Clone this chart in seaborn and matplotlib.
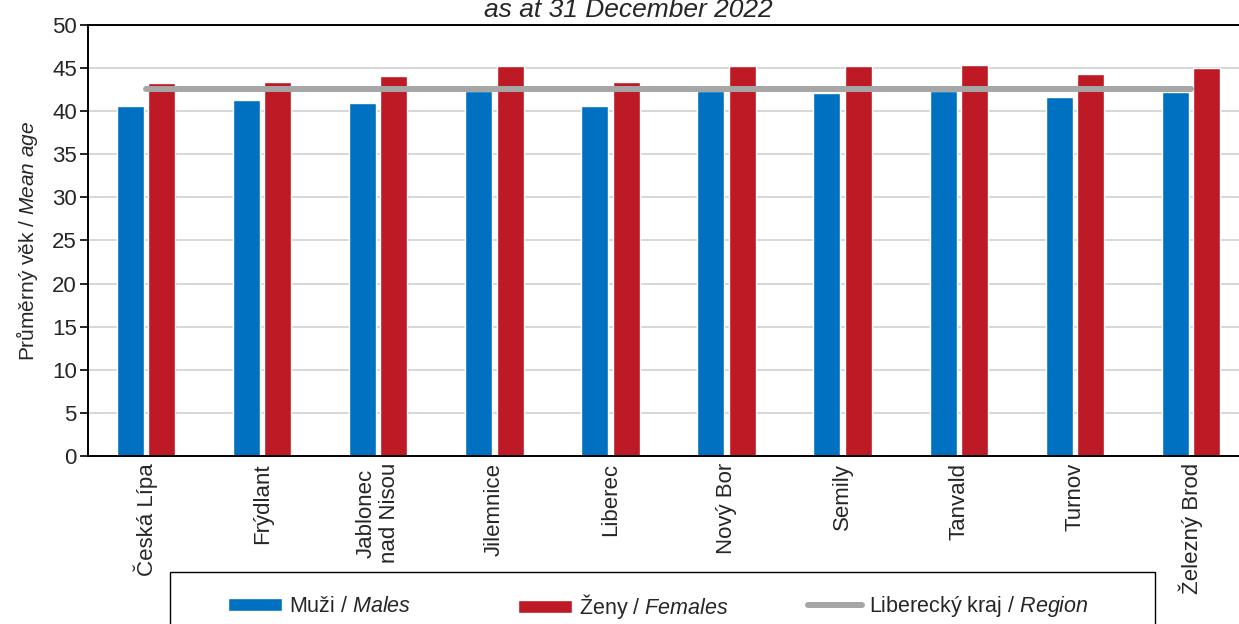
import numpy as np
import pandas as pd
import matplotlib
matplotlib.use("Agg")
import matplotlib.pyplot as plt
from matplotlib.patches import Patch, Rectangle
from matplotlib.lines import Line2D
import seaborn as sns

# Data
okresy = ["Česká Lípa", "Frýdlant", "Jablonec\nnad Nisou", "Jilemnice", "Liberec",
          "Nový Bor", "Semily", "Tanvald", "Turnov", "Železný Brod"]
muzi = [40.65, 41.35, 40.92, 42.3, 40.65, 42.3, 42.1, 42.3, 41.6, 42.2]
zeny = [43.3, 43.37, 44.05, 45.23, 43.33, 45.27, 45.23, 45.35, 44.3, 45.0]
kraj_prumer = 42.6
pohlavi = ["Muži / Males", "Ženy / Females"]

BLUE = "#0070C0"
RED = "#BE1A25"
GREY = "#A6A6A6"

df = pd.DataFrame({
    "okres": okresy * 2,
    "vek": muzi + zeny,
    "pohlavi": [pohlavi[0]] * len(okresy) + [pohlavi[1]] * len(okresy),
})

sns.set_style("white")
plt.rcParams["font.family"] = ["Liberation Sans", "DejaVu Sans"]
plt.rcParams["mathtext.fontset"] = "custom"
plt.rcParams["mathtext.rm"] = "Liberation Sans"
plt.rcParams["mathtext.it"] = "Liberation Sans:italic"

W, H = 1239, 624
fig = plt.figure(figsize=(W / 100, H / 100), dpi=100)
ax = fig.add_axes([88 / W, 1 - 456 / H, 1161 / W, 431 / H])

sns.barplot(data=df, x="okres", y="vek", hue="pohlavi", order=okresy,
            palette=[BLUE, RED], width=0.54, gap=0.14, saturation=1,
            legend=False, ax=ax, zorder=2)

# krajský průměr
x = np.arange(len(okresy))
ax.plot(x, [kraj_prumer] * len(okresy), color=GREY, lw=4.3,
        solid_capstyle="round", zorder=3)

ax.set_xlim(-0.5, len(okresy) - 0.5)
ax.set_ylim(0, 50)
ax.set_yticks(np.arange(0, 51, 5))
ax.yaxis.grid(True, color="#D4D4D4", lw=1.3, zorder=0)
ax.set_axisbelow(True)

for side in ["left", "bottom", "top"]:
    ax.spines[side].set_visible(True)
    ax.spines[side].set_color("black")
    ax.spines[side].set_linewidth(1.4)

ax.set_xticks(x)
ax.set_xticklabels(okresy, rotation=90, ha="center", va="top", fontsize=16,
                   linespacing=1.15)
ax.set_xticks(np.arange(-0.5, len(okresy), 1), minor=True)
ax.tick_params(axis="x", which="major", length=0, pad=5)
ax.tick_params(axis="x", which="minor", length=6, width=1.2, color="black",
               direction="out")
ax.tick_params(axis="y", length=6, width=1.2, color="black", direction="out",
               labelsize=16, pad=2, left=True)
ax.set_xlabel("")

ax.set_ylabel("Průměrný věk / $\\it{Mean\\ age}$", fontsize=15)
ax.yaxis.set_label_coords(-0.041, 0.5)

# titulek (oříznutý)
fig.text(628 / W, 1 - 17 / H, "as at 31 December 2022", ha="center",
         va="baseline", style="italic", fontsize=19)

# legenda
fig.add_artist(Rectangle((170 / W, -0.1), 985 / W, (H - 572) / H + 0.1,
                         transform=fig.transFigure, facecolor="white",
                         edgecolor="black", lw=1.0))
entries = [
    (Patch(facecolor=BLUE), "Muži / $\\it{Males}$", 228),
    (Patch(facecolor=RED), "Ženy / $\\it{Females}$", 518),
    (Line2D([], [], color=GREY, lw=4.3, solid_capstyle="round"),
     "Liberecký kraj / $\\it{Region}$", 808),
]
for handle, label, xpos in entries:
    fig.legend([handle], [label], loc="center left",
               bbox_to_anchor=(xpos / W, 1 - 606.5 / H), frameon=False,
               fontsize=15.5, borderpad=0, borderaxespad=0,
               handlelength=2.5, handleheight=0.6, handletextpad=0.35)

plt.savefig("out.png", dpi=100)
